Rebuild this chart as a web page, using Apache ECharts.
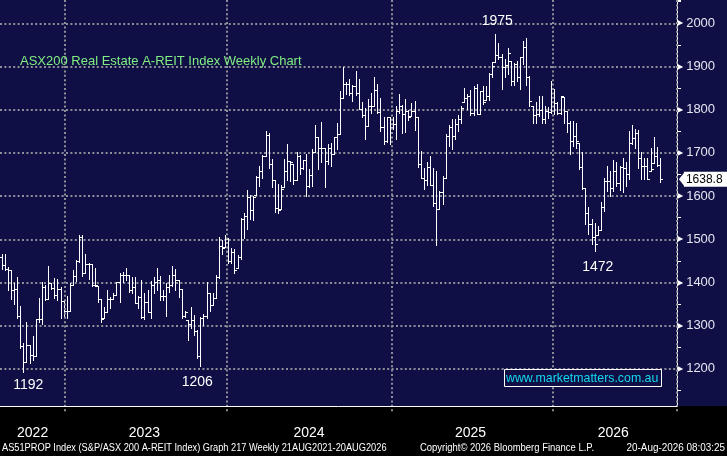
<!DOCTYPE html>
<html>
<head>
    <meta charset="UTF-8">
    <title>ASX200 A-REIT Weekly</title>
    <script src="https://cdn.jsdelivr.net/npm/echarts@6/dist/echarts.min.js"></script>
    <style>
        html, body { margin: 0; padding: 0; background: #000; }
        #chart { width: 727px; height: 456px; }
    </style>
</head>
<body>
<div id="chart"></div>
<script type="text/javascript">
    // weekly OHLC
    var opens = [
        1458,1440,1432,1428,1382,1385,1323,1252,1217,1255,
        1232,1231,1315,1315,1390,1362,1398,1388,1371,1384,
        1357,1334,1334,1394,1415,1449,1505,1423,1442,1442,
        1394,1392,1362,1317,1331,1362,1362,1372,1402,1418,
        1418,1418,1382,1390,1352,1367,1321,1354,1331,1395,
        1402,1405,1369,1369,1390,1394,1417,1405,1385,1323,
        1313,1305,1313,1288,1230,1318,1323,1375,1349,1365,
        1413,1485,1482,1500,1449,1470,1434,1458,1546,1553,
        1597,1568,1602,1645,1658,1693,1741,1674,1637,1573,
        1569,1622,1658,1681,1674,1637,1693,1666,1684,1624,
        1648,1701,1736,1712,1712,1681,1712,1697,1736,1743,
        1826,1859,1859,1838,1855,1838,1801,1787,1763,1809,
        1809,1846,1795,1761,1728,1782,1759,1766,1797,1809,
        1790,1797,1786,1797,1784,1674,1643,1637,1668,1625,
        1585,1571,1610,1641,1738,1759,1738,1766,1778,1818,
        1828,1831,1792,1851,1790,1844,1823,1831,1882,1911,
        1926,1921,1898,1903,1913,1867,1905,1875,1921,1946,
        1875,1809,1787,1790,1800,1778,1797,1795,1847,1815,
        1792,1830,1797,1769,1728,1739,1724,1668,1618,1561,
        1536,1505,1511,1522,1574,1635,1635,1619,1658,1631,
        1667,1666,1650,1724,1734,1747,1688,1670,1670,1657,
        1677,1693,1672
    ];
    var highs = [
        1465,1465,1435,1428,1398,1413,1345,1259,1308,1255,
        1276,1315,1365,1400,1394,1438,1399,1411,1409,1390,
        1357,1368,1398,1428,1452,1511,1511,1467,1446,1442,
        1434,1392,1362,1344,1382,1367,1375,1402,1422,1425,
        1434,1418,1413,1413,1369,1405,1375,1382,1403,1413,
        1434,1415,1382,1398,1417,1438,1432,1405,1385,1334,
        1313,1344,1325,1290,1321,1328,1402,1375,1375,1417,
        1505,1498,1509,1503,1480,1477,1463,1550,1562,1614,
        1602,1600,1647,1670,1695,1751,1747,1687,1637,1627,
        1625,1687,1720,1681,1674,1701,1695,1684,1697,1662,
        1709,1764,1736,1771,1712,1720,1722,1737,1770,1844,
        1898,1863,1872,1857,1890,1871,1818,1805,1824,1838,
        1875,1859,1828,1782,1784,1784,1784,1809,1836,1812,
        1824,1800,1815,1820,1784,1705,1666,1679,1693,1664,
        1658,1612,1647,1743,1764,1778,1779,1787,1809,1851,
        1836,1846,1855,1859,1844,1855,1855,1886,1911,1975,
        1954,1929,1917,1942,1913,1909,1913,1921,1959,1965,
        1878,1809,1817,1832,1832,1809,1807,1867,1847,1818,
        1832,1830,1797,1774,1774,1769,1724,1701,1618,1574,
        1546,1538,1530,1587,1643,1670,1658,1683,1678,1670,
        1689,1680,1751,1765,1755,1753,1701,1689,1688,1712,
        1736,1714,1689
    ];
    var lows = [
        1432,1430,1382,1362,1351,1317,1249,1192,1215,1213,
        1221,1231,1309,1304,1359,1362,1386,1363,1359,1318,
        1321,1318,1334,1394,1403,1448,1415,1423,1409,1392,
        1392,1354,1309,1317,1331,1342,1362,1371,1355,1402,
        1405,1378,1375,1352,1340,1318,1315,1331,1318,1375,
        1382,1359,1359,1323,1378,1392,1382,1367,1318,1321,
        1267,1294,1278,1225,1206,1302,1318,1334,1349,1365,
        1411,1465,1482,1446,1444,1423,1434,1455,1502,1523,
        1548,1545,1602,1624,1643,1693,1664,1622,1563,1562,
        1569,1622,1637,1635,1627,1637,1652,1662,1600,1622,
        1624,1701,1662,1679,1622,1674,1670,1697,1710,1743,
        1826,1836,1834,1820,1834,1801,1784,1733,1763,1792,
        1808,1792,1751,1720,1725,1720,1756,1731,1793,1745,
        1749,1776,1786,1753,1668,1641,1616,1625,1625,1577,
        1486,1571,1581,1641,1716,1710,1732,1751,1770,1818,
        1801,1787,1787,1790,1790,1813,1823,1823,1875,1911,
        1917,1847,1875,1882,1857,1857,1867,1847,1905,1857,
        1809,1769,1769,1786,1769,1769,1780,1793,1790,1790,
        1790,1769,1749,1697,1716,1712,1662,1616,1536,1512,
        1489,1472,1511,1522,1565,1612,1600,1612,1623,1613,
        1610,1623,1639,1720,1712,1666,1639,1639,1639,1657,
        1677,1670,1633
    ];
    var closes = [
        1440,1432,1428,1382,1385,1323,1252,1217,1255,1232,
        1231,1315,1315,1390,1362,1398,1388,1371,1384,1357,
        1334,1334,1394,1415,1449,1505,1423,1442,1442,1394,
        1394,1362,1315,1331,1362,1362,1372,1402,1418,1418,
        1418,1382,1390,1352,1367,1321,1354,1331,1395,1402,
        1405,1369,1369,1390,1394,1417,1405,1385,1323,1331,
        1305,1313,1288,1230,1318,1323,1375,1349,1365,1413,
        1485,1480,1500,1449,1470,1430,1458,1546,1553,1597,
        1568,1598,1645,1658,1693,1741,1674,1637,1573,1568,
        1616,1658,1681,1679,1637,1693,1666,1684,1624,1648,
        1701,1736,1712,1712,1681,1712,1697,1736,1743,1826,
        1859,1859,1838,1855,1838,1801,1787,1763,1809,1809,
        1846,1795,1761,1728,1782,1759,1766,1797,1809,1790,
        1797,1782,1797,1784,1674,1643,1637,1668,1625,1585,
        1571,1610,1641,1738,1759,1738,1766,1778,1805,1828,
        1831,1792,1851,1790,1844,1817,1831,1882,1900,1926,
        1921,1898,1903,1932,1867,1905,1875,1921,1946,1875,
        1820,1787,1790,1800,1778,1797,1795,1849,1815,1792,
        1831,1797,1769,1728,1739,1728,1668,1618,1561,1536,
        1505,1488,1522,1574,1635,1635,1619,1658,1631,1667,
        1666,1650,1724,1734,1747,1688,1670,1670,1639,1662,
        1693,1672,1638.8
    ];

    // week slots on the x axis (a few empty ones after the last bar)
    var slotCount = 218;
    var weeks = [];
    for (var i = 0; i < slotCount; i++) {
        weeks.push('W' + (i + 1));
    }

    // x axis marks, as week slot indices
    var yearLabels = ['2022', '2023', '2024', '2025', '2026'];
    var yearLabelIdx = [10, 46, 99, 151, 197];
    var yearStartIdx = [21, 73, 126, 178];
    var quarterIdx = [7, 34, 47, 60, 86, 99, 112, 139, 152, 165, 191, 204];

    // price axis range shown
    var yMin = 1100;
    var yMax = 2053.9;

    // annotated extremes
    var noteIdx = [7, 64, 159, 191];
    var noteVal = [1192, 1206, 1975, 1472];

    var ohlc = closes.map(function (c, i) {
        return [i, opens[i], highs[i], lows[i], c];
    });
    var lastIdx = closes.length - 1;
    var lastClose = closes[lastIdx];

    var navy = '#0f0f45';
    var sans = '"Liberation Sans", Arial, sans-serif';

    function renderOHLC(params, api) {
        var idx = api.value(0);
        var x = Math.round(api.coord([idx, 0])[0]) + 0.5;
        var yo = Math.round(api.coord([idx, api.value(1)])[1]) + 0.5;
        var yh = Math.round(api.coord([idx, api.value(2)])[1]);
        var yl = Math.round(api.coord([idx, api.value(3)])[1]) + 1;
        var yc = Math.round(api.coord([idx, api.value(4)])[1]) + 0.5;
        var st = { stroke: '#ffffff', lineWidth: 1 };
        return {
            type: 'group',
            children: [
                { type: 'line', shape: { x1: x, y1: yh, x2: x, y2: yl }, style: st },
                { type: 'line', shape: { x1: x - 2.5, y1: yo, x2: x, y2: yo }, style: st },
                { type: 'line', shape: { x1: x, y1: yc, x2: x + 2.5, y2: yc }, style: st }
            ]
        };
    }

    var dotted = { color: '#8e8e98', width: 2, type: [2, 2.4] };

    var noteOffsets = [[5, 0], [-3, 0], [2, 0], [3, 0]];
    var noteGap = [6, 9, 6, 9];
    var notes = noteIdx.map(function (idx, k) {
        var above = noteVal[k] > 1900;
        return {
            coord: [idx, noteVal[k]],
            value: noteVal[k],
            label: {
                position: above ? 'top' : 'bottom',
                distance: noteGap[k],
                offset: noteOffsets[k]
            }
        };
    });

    function footer(text, x, scale, align) {
        return {
            type: 'text', x: x, y: 448, scaleX: scale, z: 20,
            style: {
                text: text, fill: '#ffffff', font: '11px ' + sans,
                align: align, verticalAlign: 'middle'
            }
        };
    }

    var chart = echarts.init(document.getElementById('chart'));
    chart.setOption({
        backgroundColor: navy,
        animation: false,
        grid: { left: 0, right: 50, top: 0, bottom: 43.9 },
        xAxis: [
            {
                type: 'category',
                data: weeks,
                position: 'bottom',
                offset: -6.1,
                z: 10,
                axisLine: { lineStyle: { color: '#ffffff', width: 1 } },
                axisTick: {
                    interval: function (i) { return quarterIdx.indexOf(i) >= 0; },
                    length: 3,
                    lineStyle: { color: '#d0d0d0' }
                },
                axisLabel: {
                    interval: function (i) { return yearLabelIdx.indexOf(i) >= 0; },
                    formatter: function (v, i) { return yearLabels[yearLabelIdx.indexOf(i)]; },
                    color: '#ffffff',
                    fontSize: 14,
                    fontFamily: 'Liberation Sans',
                    margin: 20
                },
                splitLine: {
                    show: true,
                    interval: function (i) { return yearStartIdx.indexOf(i) >= 0; },
                    lineStyle: dotted
                }
            },
            {
                type: 'category',
                data: weeks,
                position: 'bottom',
                offset: -6.1,
                z: 10,
                axisLine: { show: false },
                axisTick: {
                    interval: function (i) { return yearStartIdx.indexOf(i) >= 0; },
                    length: 33,
                    lineStyle: { color: '#8c8c8c' }
                },
                axisLabel: { show: false },
                splitLine: { show: false }
            }
        ],
        yAxis: [
            {
                type: 'value',
                position: 'right',
                min: yMin,
                max: yMax,
                interval: 100,
                axisLine: { show: true, lineStyle: { color: '#ffffff', width: 1 } },
                axisTick: { show: false },
                splitLine: { lineStyle: dotted, showMinLine: false, showMaxLine: false },
                axisLabel: {
                    showMinLabel: false,
                    showMaxLabel: false,
                    margin: 0,
                    formatter: function (v) { return '{t|\u25B6}{n|' + v + '}'; },
                    rich: {
                        t: { fontFamily: 'DejaVu Sans', fontSize: 8, color: '#ffffff', padding: [0, 3, 0, 0] },
                        n: { fontFamily: 'Liberation Sans', fontSize: 13, color: '#e4e6f0' }
                    }
                }
            },
            {
                type: 'value',
                position: 'right',
                min: yMin,
                max: yMax,
                interval: 50,
                axisLine: { show: false },
                axisTick: { show: true, length: 4, lineStyle: { color: '#ffffff' } },
                axisLabel: { show: false },
                splitLine: { show: false }
            }
        ],
        series: [
            {
                type: 'custom',
                renderItem: renderOHLC,
                data: ohlc,
                yAxisIndex: 0,
                encode: { x: 0, y: [1, 2, 3, 4] },
                clip: true,
                markPoint: {
                    symbol: 'circle',
                    symbolSize: 0,
                    label: {
                        show: true,
                        color: '#ffffff',
                        fontSize: 14,
                        fontFamily: 'Liberation Sans',
                        formatter: '{c}'
                    },
                    data: notes.concat([
                        {
                            coord: [lastIdx, lastClose],
                            value: lastClose,
                            label: {
                                position: 'right',
                                distance: 24,
                                backgroundColor: '#ffffff',
                                color: '#000000',
                                fontSize: 12,
                                padding: [2, 6, 1, 2],
                                formatter: '{c}'
                            }
                        },
                        {
                            coord: [lastIdx, lastClose],
                            symbol: 'triangle',
                            symbolSize: [15, 6],
                            symbolRotate: 90,
                            symbolOffset: [22, 0],
                            itemStyle: { color: '#ffffff' },
                            label: { show: false }
                        }
                    ])
                }
            }
        ],
        graphic: [
            {
                type: 'rect',
                left: 0, top: 406, z: 3, silent: true,
                shape: { width: 727, height: 50 },
                style: { fill: '#000000' }
            },
            {
                type: 'text', left: 20, top: 55, z: 20,
                style: { text: 'ASX200 Real Estate A-REIT Index Weekly Chart', fill: '#80ee80', font: '13px ' + sans }
            },
            {
                type: 'rect', left: 504, top: 369, z: 20,
                shape: { width: 157, height: 17 },
                style: { fill: navy, stroke: '#ffffff', lineWidth: 1 }
            },
            {
                type: 'text', x: 506, y: 378, scaleX: 0.95, z: 21,
                style: {
                    text: 'www.marketmatters.com.au', fill: '#14d8ee', font: '13px ' + sans,
                    align: 'left', verticalAlign: 'middle'
                }
            },
            footer('AS51PROP Index (S&P/ASX 200 A-REIT Index) Graph 217 Weekly 21AUG2021-20AUG2026', 2, 0.84, 'left'),
            footer('Copyright\u00A9 2026 Bloomberg Finance L.P.', 420, 0.86, 'left'),
            footer('20-Aug-2026 08:03:25', 725, 0.9, 'right')
        ]
    });
</script>
</body>
</html>
